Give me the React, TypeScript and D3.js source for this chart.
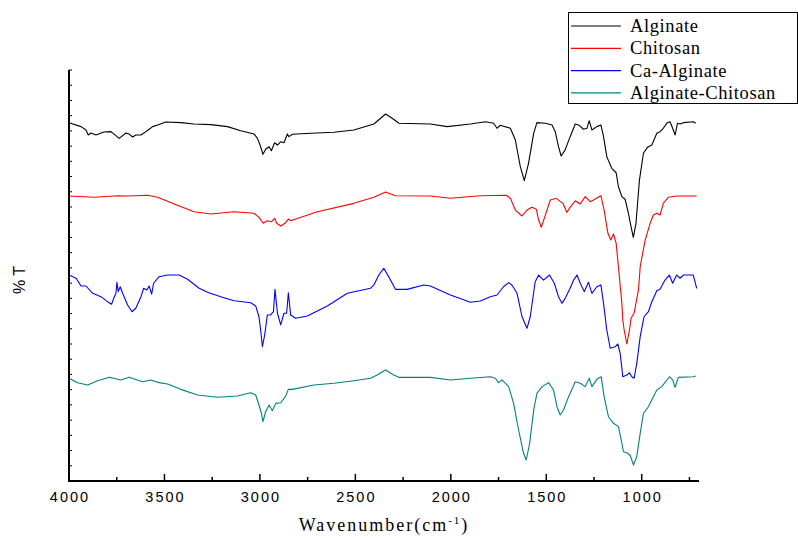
import React from "react";
import * as d3 from "d3";

const seriesNames = ["Alginate", "Chitosan", "Ca-Alginate", "Alginate-Chitosan"];
const seriesColors = ["#000000", "#ff0000", "#0000ff", "#008080"];

const xMajorTicks = [4000, 3500, 3000, 2500, 2000, 1500, 1000];
const xMinorTicks = [3750, 3250, 2750, 2250, 1750, 1250, 750];

const alginate: [number, number][] = [
  [4000, 23.54], [3937, 23.28], [3911, 23.06], [3899, 22.73], [3885, 22.86], [3859, 22.73], [3817, 22.93],
  [3780, 22.95], [3737, 22.51], [3702, 22.86], [3686, 22.8], [3667, 22.6], [3650, 22.73], [3623, 22.73],
  [3597, 22.95], [3580, 23.11], [3562, 23.28], [3536, 23.39], [3493, 23.58], [3414, 23.54], [3345, 23.45],
  [3257, 23.41], [3170, 23.28], [3100, 23.01], [3031, 22.8], [3013, 22.51], [2996, 21.96], [2984, 21.46],
  [2970, 21.79], [2952, 21.96], [2940, 21.7], [2923, 22.22], [2908, 22.07], [2891, 22.29], [2874, 22.22],
  [2856, 22.8], [2848, 22.62], [2830, 22.78], [2734, 22.84], [2612, 22.91], [2508, 23.06], [2403, 23.45],
  [2342, 24.11], [2307, 23.83], [2272, 23.5], [2107, 23.45], [2019, 23.28], [1897, 23.45], [1819, 23.6],
  [1776, 23.5], [1758, 23.17], [1741, 23.37], [1688, 23.17], [1662, 22.4], [1636, 20.65], [1615, 19.73],
  [1593, 20.87], [1566, 22.84], [1549, 23.54], [1505, 23.5], [1470, 23.39], [1453, 22.95], [1436, 21.96],
  [1422, 21.35], [1401, 21.75], [1375, 22.62], [1348, 23.45], [1331, 23.39], [1305, 23.11], [1287, 23.17],
  [1275, 23.67], [1261, 23.06], [1235, 23.28], [1214, 23.39], [1200, 22.62], [1183, 21.31], [1157, 20.54],
  [1134, 20.25], [1122, 19.33], [1104, 18.68], [1087, 18.51], [1070, 17.59], [1056, 16.71], [1044, 16.01],
  [1030, 16.93], [1012, 19.77], [991, 21.53], [970, 21.92], [947, 22.07], [921, 22.84], [904, 22.95],
  [887, 23.17], [866, 23.54], [852, 23.6], [838, 23.17], [825, 22.73], [813, 23.5], [799, 23.45],
  [782, 23.54], [730, 23.6], [717, 23.5],
];

const chitosan: [number, number][] = [
  [4000, 18.72], [3868, 18.64], [3745, 18.74], [3693, 18.72], [3588, 18.77], [3536, 18.64], [3449, 18.2],
  [3345, 17.69], [3257, 17.54], [3135, 17.69], [3031, 17.59], [3005, 17.32], [2982, 16.93], [2961, 17.1],
  [2940, 17.03], [2923, 17.26], [2912, 16.93], [2891, 16.75], [2865, 16.97], [2851, 17.21], [2839, 17.1],
  [2699, 17.69], [2508, 18.24], [2403, 18.64], [2342, 18.99], [2290, 18.74], [2107, 18.72], [2002, 18.57],
  [1845, 18.74], [1709, 18.77], [1688, 18.57], [1662, 17.8], [1627, 17.41], [1601, 17.8], [1575, 17.98],
  [1552, 17.85], [1540, 17.15], [1526, 16.67], [1505, 17.47], [1479, 18.46], [1448, 18.57], [1413, 18.24],
  [1392, 17.65], [1375, 17.98], [1348, 18.41], [1322, 18.2], [1296, 18.68], [1270, 18.35], [1253, 18.46],
  [1214, 18.74], [1197, 17.8], [1177, 16.27], [1162, 15.83], [1148, 16.23], [1134, 15.62], [1117, 13.42],
  [1104, 11.67], [1099, 10.58], [1092, 9.92], [1078, 9.0], [1064, 9.92], [1056, 10.69], [1040, 11.02],
  [1017, 12.55], [1008, 14.08], [982, 15.83], [956, 16.93], [939, 17.47], [921, 17.59], [904, 17.47],
  [887, 18.24], [861, 18.64], [817, 18.72], [712, 18.72],
];

const caAlginate: [number, number][] = [
  [4000, 13.53], [3963, 13.32], [3937, 12.81], [3911, 12.81], [3876, 12.33], [3833, 12.11], [3798, 11.78],
  [3777, 11.61], [3766, 12.0], [3754, 12.33], [3749, 13.05], [3742, 12.44], [3732, 12.76], [3719, 12.33],
  [3693, 11.56], [3670, 11.12], [3650, 11.35], [3623, 12.11], [3609, 12.66], [3592, 12.55], [3580, 12.81],
  [3567, 12.28], [3557, 12.99], [3528, 13.42], [3484, 13.53], [3423, 13.53], [3379, 13.25], [3318, 12.66],
  [3275, 12.4], [3205, 12.11], [3135, 11.84], [3048, 11.71], [3022, 11.5], [3005, 10.79], [2996, 9.92],
  [2987, 8.82], [2975, 9.59], [2961, 10.91], [2944, 10.91], [2929, 11.12], [2921, 12.59], [2908, 11.02],
  [2891, 10.25], [2874, 11.02], [2860, 11.02], [2851, 12.37], [2839, 10.91], [2813, 10.69], [2752, 10.84],
  [2647, 11.5], [2542, 12.33], [2421, 12.66], [2403, 12.88], [2377, 13.53], [2351, 13.97], [2325, 13.42],
  [2290, 12.59], [2229, 12.59], [2142, 12.88], [2107, 12.81], [2002, 12.22], [1897, 11.74], [1845, 11.83],
  [1793, 12.11], [1758, 12.22], [1724, 12.76], [1697, 13.03], [1680, 12.88], [1653, 12.33], [1627, 10.79],
  [1601, 10.03], [1584, 10.79], [1558, 13.09], [1540, 13.53], [1514, 13.2], [1483, 13.53], [1458, 12.99],
  [1436, 12.11], [1418, 11.67], [1401, 12.0], [1375, 12.66], [1357, 13.2], [1339, 13.53], [1322, 12.99],
  [1301, 12.44], [1279, 13.05], [1261, 12.33], [1235, 12.76], [1214, 12.88], [1200, 11.67], [1183, 9.92],
  [1165, 8.72], [1139, 8.82], [1125, 9.0], [1113, 8.39], [1099, 6.85], [1078, 6.96], [1064, 7.11],
  [1052, 6.85], [1040, 6.75], [1026, 7.73], [1008, 9.48], [988, 10.79], [965, 11.12], [947, 11.78],
  [921, 12.5], [904, 12.59], [878, 13.2], [855, 13.53], [838, 12.99], [817, 13.53], [799, 13.32],
  [782, 13.53], [730, 13.53], [712, 12.66],
];

const alginateChitosan: [number, number][] = [
  [4000, 6.75], [3955, 6.46], [3902, 6.31], [3850, 6.59], [3789, 6.81], [3728, 6.64], [3685, 6.81],
  [3615, 6.52], [3571, 6.64], [3528, 6.46], [3484, 6.37], [3414, 6.02], [3327, 5.65], [3222, 5.5],
  [3118, 5.58], [3048, 5.8], [3022, 5.65], [3005, 4.99], [2992, 4.45], [2984, 3.9], [2970, 4.55],
  [2952, 4.99], [2935, 4.62], [2917, 5.1], [2891, 5.14], [2865, 5.58], [2851, 6.02], [2830, 6.02],
  [2717, 6.31], [2612, 6.42], [2508, 6.59], [2421, 6.75], [2386, 6.96], [2342, 7.29], [2299, 6.96],
  [2272, 6.81], [2107, 6.81], [2002, 6.64], [1897, 6.75], [1793, 6.85], [1767, 6.75], [1750, 6.46],
  [1732, 6.64], [1697, 6.2], [1671, 5.1], [1645, 3.35], [1619, 1.82], [1605, 1.38], [1587, 2.48],
  [1566, 4.66], [1549, 5.76], [1522, 6.2], [1488, 6.46], [1462, 5.98], [1444, 4.88], [1427, 4.34],
  [1410, 4.66], [1383, 5.54], [1348, 6.52], [1322, 6.42], [1296, 6.2], [1275, 6.75], [1261, 6.2],
  [1235, 6.68], [1212, 6.85], [1197, 5.54], [1174, 4.22], [1148, 3.79], [1122, 3.57], [1104, 2.48],
  [1096, 1.92], [1078, 1.86], [1061, 1.71], [1043, 1.05], [1026, 1.6], [1008, 3.13], [991, 4.45],
  [965, 4.88], [939, 5.54], [921, 5.98], [895, 6.2], [855, 6.85], [838, 6.64], [825, 6.16], [808, 6.81],
  [730, 6.85], [717, 6.9],
];

const allSeries = [alginate, chitosan, caAlginate, alginateChitosan];

const W = 798;
const H = 538;
const left = 69;
const right = 699;
const top = 70;
const bottom = 481;

export default function App() {
  const x = d3.scaleLinear().domain([4000, 700]).range([left, right]);
  const y = d3.scaleLinear().domain([0, 27]).range([bottom, top]);
  const line = d3
    .line<[number, number]>()
    .x((d) => x(d[0]))
    .y((d) => y(d[1]));
  const yTicks = d3.range(0, 28);

  return (
    <svg
      width={W}
      height={H}
      style={{ position: "absolute", left: 0, top: 0, background: "#fff" }}
    >
      <rect x={0} y={0} width={W} height={H} fill="#fff" />
      {allSeries.map((s, i) => (
        <path key={i} d={line(s) || ""} fill="none" stroke={seriesColors[i]} strokeWidth={1.1} strokeLinejoin="round" />
      ))}
      {/* axes */}
      <line x1={left} x2={left} y1={top} y2={bottom + 1} stroke="#000" strokeWidth={2} />
      <line x1={left - 1} x2={right} y1={bottom} y2={bottom} stroke="#000" strokeWidth={2} />
      {yTicks.map((t) => (
        <line key={"yt" + t} x1={left} x2={left + 3} y1={y(t)} y2={y(t)} stroke="#000" strokeWidth={1} />
      ))}
      {xMajorTicks.map((t) => (
        <line key={"xm" + t} x1={x(t)} x2={x(t)} y1={bottom} y2={bottom - 7} stroke="#000" strokeWidth={1.5} />
      ))}
      {xMinorTicks.map((t) => (
        <line key={"xn" + t} x1={x(t)} x2={x(t)} y1={bottom} y2={bottom - 4} stroke="#000" strokeWidth={1.5} />
      ))}
      {xMajorTicks.map((t) => (
        <text
          key={"xl" + t}
          x={x(t) + 1}
          y={502}
          textAnchor="middle"
          fontFamily="'Liberation Sans', Arial, sans-serif"
          fontSize={14.5}
          letterSpacing={2}
          fill="#000"
        >
          {t}
        </text>
      ))}
      <text
        x={384}
        y={531}
        textAnchor="middle"
        fontFamily="'Liberation Serif', 'Times New Roman', serif"
        fontSize={18}
        letterSpacing={2}
        fill="#000"
      >
        Wavenumber(cm
        <tspan fontSize={11} dy={-7}>-1</tspan>
        <tspan dy={7}>)</tspan>
      </text>
      <text
        transform="translate(25,280) rotate(-90)"
        textAnchor="middle"
        fontFamily="'Liberation Sans', Arial, sans-serif"
        fontSize={16}
        fill="#000"
      >
        % T
      </text>
      {/* legend */}
      <rect x={568.5} y={12.5} width={229} height={91} fill="#fff" stroke="#000" strokeWidth={1} />
      {seriesNames.map((n, i) => (
        <g key={n}>
          <line x1={571} x2={621} y1={26 + i * 22.3} y2={26 + i * 22.3} stroke={seriesColors[i]} strokeWidth={1.2} />
          <text
            x={630}
            y={32 + i * 22.3}
            fontFamily="'Liberation Serif', 'Times New Roman', serif"
            fontSize={18.5}
            letterSpacing={0.6}
            fill="#000"
          >
            {n}
          </text>
        </g>
      ))}
    </svg>
  );
}
